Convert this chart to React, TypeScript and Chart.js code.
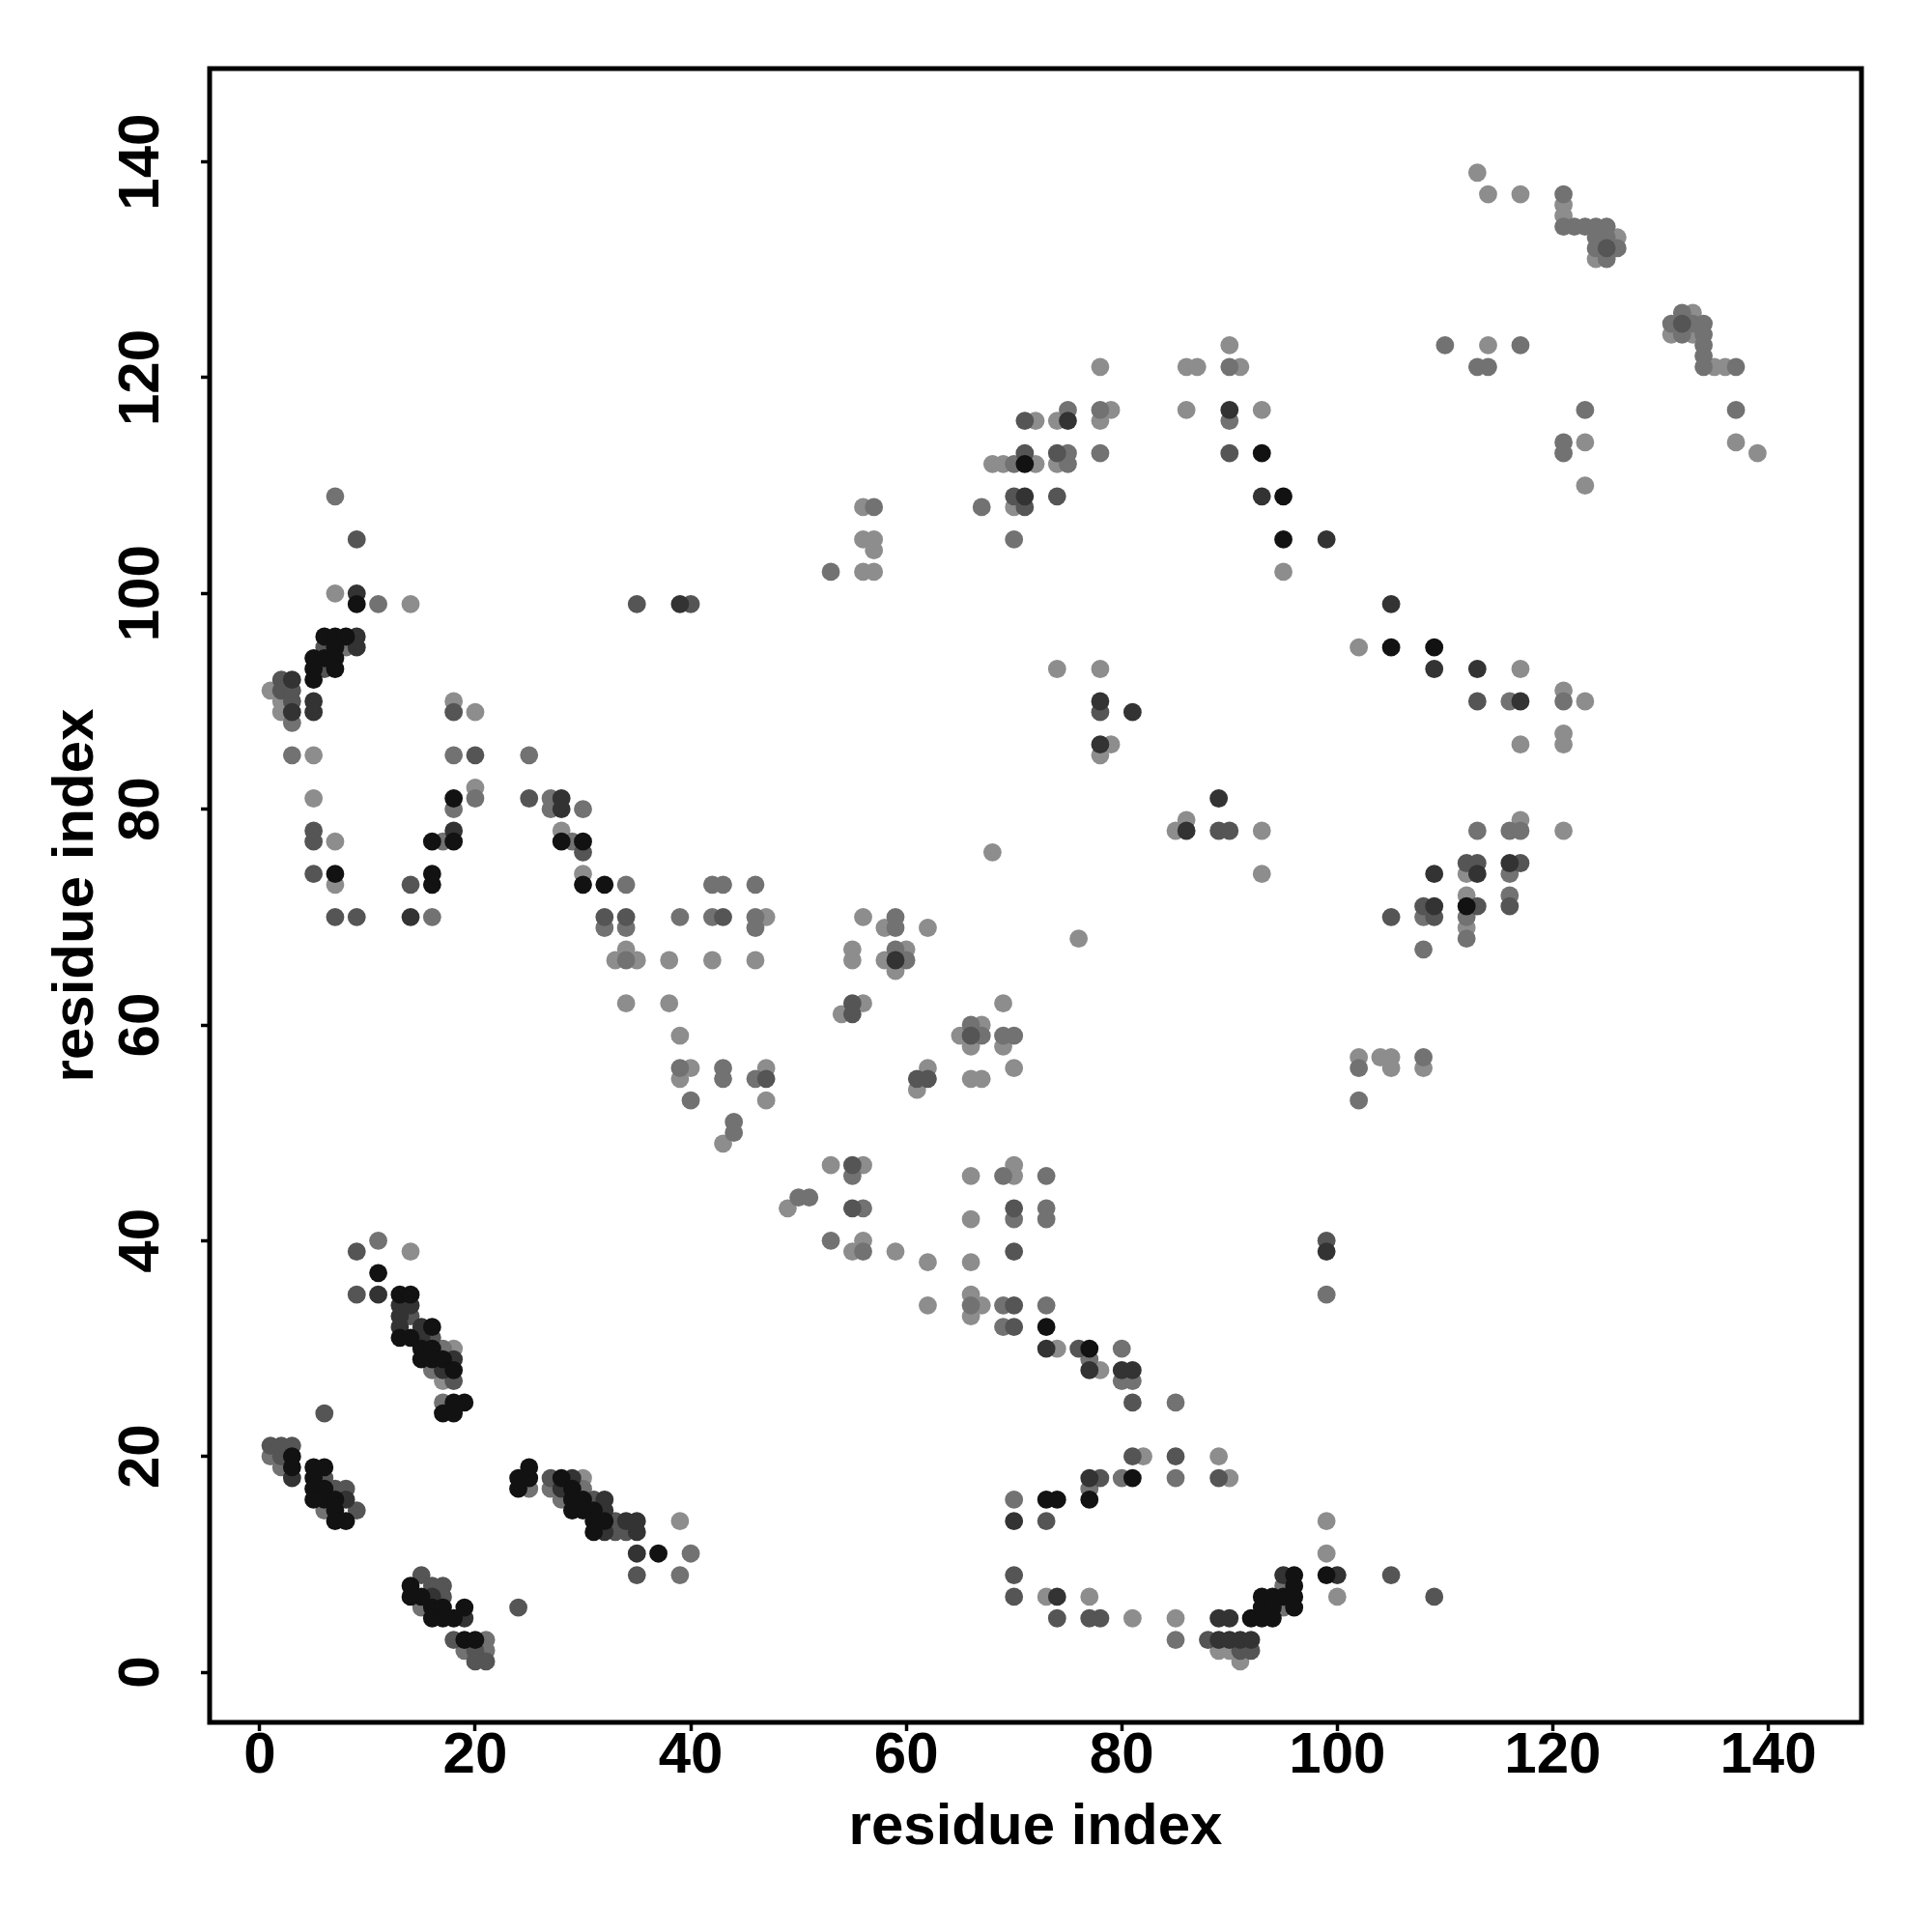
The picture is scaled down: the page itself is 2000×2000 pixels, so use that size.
import React, { useEffect, useRef } from "react";
import { Chart, registerables } from "chart.js";

Chart.register(...registerables);

// Contact map: residue pairs [x, y], grouped by shade
const contactsBlack: [number, number][] = [
  [13,35],[14,35],[16,32],[13,31],[14,31],[15,30],[16,30],[15,29],[16,29],[17,29],[18,28],[18,25],[19,25],[17,24],[18,24],
  [3,20],[3,19],[5,19],[6,19],[5,18],[5,17],[6,17],[5,16],[6,16],[7,16],[7,15],[7,14],[8,14],
  [14,8],[14,7],[15,7],[16,6],[17,6],[19,6],[16,5],[17,5],[18,5],[19,3],[20,3],
  [25,19],[24,18],[25,18],[28,18],[24,17],[29,17],[29,16],[30,16],[29,15],[30,15],[31,15],[31,14],[32,14],[31,13],[37,11],
  [73,32],[77,30],[81,18],[73,16],[74,16],[77,16],[96,9],[99,9],[96,8],[93,7],[94,7],[95,7],[96,7],[93,6],[94,6],[96,6],[92,5],[93,5],[94,5],
  [30,73],[32,73],[16,73],[11,37],
  [9,99],[6,96],[7,96],[8,96],[7,95],[5,94],[6,94],[7,94],[5,93],[7,93],[5,92],[18,81],[16,77],[18,77],[28,77],[30,77],[7,74],[16,74],
  [112,71],[95,109],[95,105],[105,95],[109,95],[71,112],[93,113],
];

const contactsDark: [number, number][] = [
  [11,35],[13,34],[14,34],[13,33],[13,32],[15,32],[15,31],[18,29],[17,28],[3,18],[8,16],[16,7],[19,5],
  [29,18],[28,17],[32,16],[32,15],[34,14],[35,14],[32,13],[35,13],[35,11],
  [73,30],[77,28],[80,28],[81,28],[77,18],[70,14],[95,9],[100,9],[74,7],[89,5],[90,5],[89,3],[90,3],[91,3],[92,3],
  [14,70],[9,100],[9,96],[9,95],[3,92],[5,90],[3,89],[5,89],[28,81],[28,80],[18,78],[39,99],
  [59,66],[109,71],[99,39],
  [71,109],[93,109],[78,90],[81,89],[78,86],[89,81],[86,78],
  [99,105],[105,99],[109,93],[113,93],[117,90],[116,75],[109,74],[113,74],
  [90,117],[75,116],
];

const contactsMid: [number, number][] = [
  [9,35],[14,33],[16,31],[18,27],[6,24],[1,21],[2,21],[3,21],[2,20],[6,18],[7,17],[8,17],[9,15],
  [15,9],[16,8],[17,8],[17,7],[18,3],[20,2],[20,1],[21,1],[24,6],[27,18],[31,16],[33,14],[33,13],[34,13],[35,9],
  [70,34],[70,32],[76,30],[81,25],[81,20],[85,20],[78,18],[89,18],[73,14],[70,9],[105,9],[70,7],[109,7],[74,5],[77,5],[78,5],[88,3],[91,2],[92,2],
  [14,73],[7,70],[9,70],[32,70],[34,70],[43,70],[47,55],[9,39],
  [55,62],[55,61],[66,59],[61,55],[62,55],[55,47],[55,43],[70,43],[70,39],
  [108,71],[113,71],[116,71],[105,70],[109,70],[99,40],
  [9,105],[35,99],[40,99],[6,95],[6,93],[2,92],[2,91],[3,91],[3,90],[18,89],[20,85],[25,81],[5,78],[5,77],[30,76],[5,74],
  [70,109],[74,109],[71,108],[78,89],[89,78],[90,78],
  [113,90],[112,75],[113,75],[117,75],
  [71,116],[71,113],[74,113],[90,113],
  [125,132],[132,125],
];

const contactsGray: [number, number][] = [
  [17,30],[16,28],[17,25],[1,20],[2,19],[6,15],[15,6],[21,3],[19,2],[21,2],[25,17],[27,17],[30,17],[28,16],[40,11],[39,9],
  [99,35],[66,34],[69,34],[73,34],[69,32],[80,30],[77,29],[80,27],[81,27],[85,25],[80,18],[85,18],[77,17],[70,16],[95,8],[95,6],[85,3],
  [34,73],[42,73],[43,73],[46,73],[16,70],[39,70],[42,70],[46,70],[32,69],[34,69],[46,69],[34,66],
  [39,56],[43,56],[43,55],[46,55],[40,53],[44,51],[44,50],[11,40],
  [59,70],[59,69],[59,67],[60,66],[66,60],[67,59],[69,59],[70,59],[55,46],[69,46],[73,46],[50,44],[51,44],
  [56,43],[73,43],[70,42],[73,42],[53,40],[56,39],
  [108,70],[112,70],[112,68],[108,67],[116,72],[108,57],[102,56],[102,53],
  [7,109],[11,99],[8,95],[3,88],[3,85],[18,85],[25,85],[20,81],[27,81],[18,80],[27,80],[30,80],[17,77],[29,77],
  [57,108],[67,108],[70,105],[53,102],
  [116,90],[121,90],[113,78],[116,78],[117,78],[116,74],
  [90,121],[75,117],[78,117],[90,116],[75,113],[78,113],[70,112],[75,112],
  [121,137],[121,134],[122,134],[123,134],[124,134],[125,134],[124,133],[125,133],[124,132],[126,132],[125,131],
  [132,126],[131,125],[133,125],[134,125],[132,124],[134,124],[110,123],[117,123],[134,123],[134,122],
  [113,121],[114,121],[134,121],[137,121],[123,117],[137,117],[121,114],[121,113],
];

const contactsLight: [number, number][] = [
  [18,30],[17,27],[30,18],[39,14],
  [66,35],[62,34],[67,34],[66,33],[74,30],[78,28],[82,20],[89,20],[90,18],[99,14],[99,11],[73,7],[77,7],[100,7],[81,5],[85,5],[89,2],[90,2],[91,1],
  [7,73],[47,70],[34,67],[33,66],[35,66],[38,66],[42,66],[46,66],[34,62],[38,62],[39,59],[40,56],[47,56],[39,55],[47,53],[43,49],[49,43],[14,39],
  [56,70],[58,69],[62,69],[76,68],[55,67],[60,67],[55,66],[58,66],[59,65],[56,62],[69,62],[54,61],[67,60],[65,59],[66,58],[69,58],
  [62,56],[70,56],[66,55],[67,55],[61,54],[53,47],[56,47],[70,47],[66,46],[70,46],[66,42],[56,40],[55,39],[59,39],[62,38],[66,38],
  [112,72],[112,69],[102,57],[104,57],[105,57],[105,56],[108,56],
  [7,100],[14,99],[1,91],[2,90],[2,89],[18,90],[20,89],[5,85],[20,82],[5,81],[28,78],[7,77],[30,74],
  [56,108],[70,108],[56,105],[57,105],[57,104],[56,102],[57,102],[95,102],[74,93],[78,93],[79,86],[78,85],[86,79],[85,78],[93,78],[68,76],[93,74],
  [123,110],[102,95],[117,93],[121,91],[123,90],[121,87],[117,86],[121,86],[117,79],[121,78],[112,74],
  [90,123],[78,121],[86,121],[87,121],[91,121],[79,117],[86,117],[93,117],[72,116],[74,116],[78,116],[68,112],[69,112],[72,112],[74,112],
  [113,139],[114,137],[117,137],[121,136],[121,135],[126,133],[124,131],[133,126],[131,124],[133,124],[114,123],[135,121],[136,121],[123,114],[137,114],[139,113],
];

const axisTicks: number[] = [0, 20, 40, 60, 80, 100, 120, 140];
const axisMin = -4.65;
const axisMax = 148.65;
const xTitle = "residue index";
const yTitle = "residue index";

const FONT = "'Liberation Sans', Arial, Helvetica, sans-serif";

const boxPlugin = {
  id: "boxFrame",
  afterDraw(chart: any) {
    const { ctx, chartArea } = chart;
    ctx.save();
    ctx.strokeStyle = "#000";
    ctx.lineWidth = 5;
    ctx.strokeRect(chartArea.left, chartArea.top, chartArea.right - chartArea.left, chartArea.bottom - chartArea.top);
    ctx.restore();
  },
};

export default function App() {
  const ref = useRef<HTMLCanvasElement | null>(null);

  useEffect(() => {
    if (!ref.current) return;
    const mk = (label: string, pts: [number, number][], color: string) => ({
      label,
      data: pts.map(([x, y]) => ({ x, y })),
      backgroundColor: color,
      borderWidth: 0,
      pointRadius: 9.4,
      pointHoverRadius: 9.4,
    });
    const tickFont = { family: FONT, size: 60, weight: "bold" as const, lineHeight: 1 };
    const setTicks = (scale: any) => {
      scale.ticks = axisTicks.map((v) => ({ value: v }));
    };
    const chart = new Chart(ref.current, {
      type: "scatter",
      data: {
        datasets: [
          mk("black", contactsBlack, "#121212"),
          mk("dark", contactsDark, "#333333"),
          mk("mid", contactsMid, "#555555"),
          mk("gray", contactsGray, "#727272"),
          mk("light", contactsLight, "#8d8d8d"),
        ],
      },
      options: {
        responsive: false,
        animation: false,
        devicePixelRatio: 1,
        layout: { padding: { top: 71, right: 73, left: 0, bottom: 0 } },
        plugins: { legend: { display: false }, tooltip: { enabled: false } },
        scales: {
          x: {
            type: "linear",
            position: "bottom",
            min: axisMin,
            max: axisMax,
            afterBuildTicks: setTicks,
            afterFit: (s: any) => { s.height = 217; },
            grid: { display: true, drawOnChartArea: false, drawTicks: true, tickLength: 9, tickWidth: 3.5, tickColor: "#000", color: "#000" },
            border: { display: false },
            ticks: { font: tickFont, color: "#000", padding: -4, autoSkip: false, maxRotation: 0, minRotation: 0 },
            title: { display: true, text: xTitle, color: "#000", font: { family: FONT, size: 60, weight: "bold", lineHeight: 1 }, padding: { top: 0, bottom: 78 } },
          },
          y: {
            type: "linear",
            position: "left",
            min: axisMin,
            max: axisMax,
            afterBuildTicks: setTicks,
            afterFit: (s: any) => { s.width = 217; },
            grid: { display: true, drawOnChartArea: false, drawTicks: true, tickLength: 9, tickWidth: 3.5, tickColor: "#000", color: "#000" },
            border: { display: false },
            ticks: { font: tickFont, color: "#000", padding: 10, autoSkip: false, minRotation: 90, maxRotation: 90, crossAlign: "center" },
            title: { display: true, text: yTitle, color: "#000", font: { family: FONT, size: 60, weight: "bold", lineHeight: 1 }, padding: { top: 49, bottom: 0 } },
          },
        },
      },
      plugins: [boxPlugin],
    });
    return () => chart.destroy();
  }, []);

  return (
    <div style={{ position: "absolute", left: 0, top: 0, width: 2000, height: 2000, background: "#fff" }}>
      <canvas ref={ref} width={2000} height={2000} style={{ width: 2000, height: 2000, display: "block" }} />
    </div>
  );
}
